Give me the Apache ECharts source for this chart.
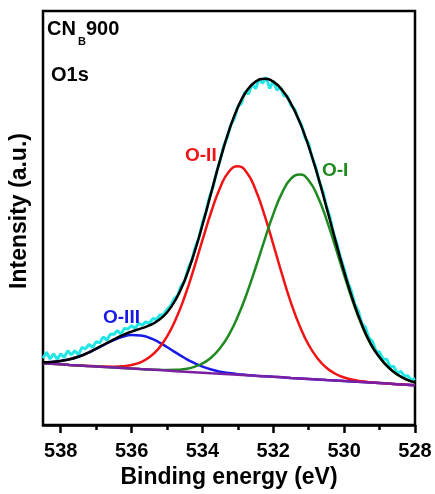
<!DOCTYPE html>
<html>
<head>
<meta charset="utf-8">
<script src="https://cdn.jsdelivr.net/npm/echarts@6/dist/echarts.min.js"></script>
<style>
  html, body { margin: 0; padding: 0; background: #fff; }
  #chart { width: 435px; height: 494px; }
</style>
</head>
<body>
<div id="chart"></div>
<script>
// O 1s core-level spectrum of CN_B900 with its peak deconvolution.

// Measured spectrum: binding energy (eV) and intensity (a.u.), 0.1 eV steps
const energyRaw = [
  538.5, 538.4, 538.3, 538.2, 538.1, 538.0, 537.9, 537.8, 537.7, 537.6,
  537.5, 537.4, 537.3, 537.2, 537.1, 537.0, 536.9, 536.8, 536.7, 536.6,
  536.5, 536.4, 536.3, 536.2, 536.1, 536.0, 535.9, 535.8, 535.7, 535.6,
  535.5, 535.4, 535.3, 535.2, 535.1, 535.0, 534.9, 534.8, 534.7, 534.6,
  534.5, 534.4, 534.3, 534.2, 534.1, 534.0, 533.9, 533.8, 533.7, 533.6,
  533.5, 533.4, 533.3, 533.2, 533.1, 533.0, 532.9, 532.8, 532.7, 532.6,
  532.5, 532.4, 532.3, 532.2, 532.1, 532.0, 531.9, 531.8, 531.7, 531.6,
  531.5, 531.4, 531.3, 531.2, 531.1, 531.0, 530.9, 530.8, 530.7, 530.6,
  530.5, 530.4, 530.3, 530.2, 530.1, 530.0, 529.9, 529.8, 529.7, 529.6,
  529.5, 529.4, 529.3, 529.2, 529.1, 529.0, 528.9, 528.8, 528.7, 528.6,
  528.5, 528.4, 528.3, 528.2, 528.1, 528.0
];
const intensityRaw = [
  67.0, 73.2, 66.3, 71.6, 66.0, 71.4, 68.0, 74.7, 70.5, 74.6,
  70.6, 78.0, 76.5, 81.1, 77.9, 83.7, 82.6, 88.5, 85.3, 91.2,
  91.1, 94.8, 91.5, 97.1, 96.5, 99.9, 97.1, 102.2, 100.4, 103.7,
  102.0, 107.0, 106.0, 110.6, 110.9, 116.1, 119.4, 126.7, 130.1, 139.8,
  144.5, 157.6, 165.7, 178.8, 187.9, 203.0, 214.1, 229.2, 239.3, 254.4,
  266.4, 280.2, 289.0, 301.5, 307.9, 320.3, 322.9, 334.6, 332.7, 342.4,
  338.0, 347.2, 343.3, 349.3, 338.2, 346.0, 336.6, 339.3, 330.9, 330.4,
  321.0, 317.4, 307.9, 301.2, 288.5, 282.8, 268.3, 258.8, 244.6, 234.8,
  220.0, 208.8, 192.6, 181.6, 167.9, 157.1, 143.6, 135.1, 121.4, 114.7,
  101.9, 98.2, 87.5, 83.9, 74.5, 73.1, 66.1, 66.1, 58.7, 58.8,
  52.0, 54.0, 49.0, 49.4, 45.1, 46.8
];

// Fit grid: binding energy (eV), 0.25 eV steps
const energyFit = [
  538.5, 538.25, 538.0, 537.75, 537.5, 537.25, 537.0, 536.75, 536.5, 536.25,
  536.0, 535.75, 535.5, 535.25, 535.0, 534.75, 534.5, 534.25, 534.0, 533.75,
  533.5, 533.25, 533.0, 532.75, 532.5, 532.25, 532.0, 531.75, 531.5, 531.25,
  531.0, 530.75, 530.5, 530.25, 530.0, 529.75, 529.5, 529.25, 529.0, 528.75,
  528.5, 528.25, 528.0
];
// Linear background
const background = [
  62.0, 61.5, 61.0, 60.4, 59.9, 59.4, 58.9, 58.3, 57.8, 57.3,
  56.8, 56.2, 55.7, 55.2, 54.7, 54.1, 53.6, 53.1, 52.6, 52.0,
  51.5, 51.0, 50.5, 50.0, 49.4, 48.9, 48.4, 47.9, 47.3, 46.8,
  46.3, 45.8, 45.2, 44.7, 44.2, 43.7, 43.1, 42.6, 42.1, 41.6,
  41.0, 40.5, 40.0
];
// Component intensities above the background
const peakOI = [
  0, 0, 0, 0, 0, 0, 0, 0, 0, 0,
  0, 0, 0, 0.3, 0.6, 1.3, 2.7, 5.1, 9.2, 15.8,
  25.8, 39.9, 58.7, 81.9, 108.6, 136.7, 163.5, 185.6, 200.2, 205.0,
  199.4, 184.1, 161.5, 134.5, 106.4, 79.9, 57.0, 38.6, 25.8, 16.3,
  9.8, 5.4, 2.8
];
const peakOII = [
  0, 0, 0, 0, 0, 0, 0.2, 0.4, 0.8, 1.7,
  3.5, 6.8, 12.3, 21.1, 34.1, 52.3, 75.5, 103.1, 133.1, 162.3,
  187.0, 203.7, 209.5, 203.7, 187.0, 162.3, 133.1, 103.1, 75.5, 52.3,
  34.1, 21.1, 12.3, 6.8, 3.5, 1.7, 0.8, 0.4, 0.2, 0,
  0, 0, 0
];
const peakOIII = [
  1.0, 1.9, 3.4, 5.6, 8.7, 12.8, 17.6, 22.7, 27.5, 31.4,
  33.6, 33.8, 32.0, 28.4, 23.7, 18.6, 13.7, 9.5, 6.1, 3.7,
  2.1, 1.2, 0.6, 0.3, 0, 0, 0, 0, 0, 0,
  0, 0, 0, 0, 0, 0, 0, 0, 0, 0,
  0, 0, 0
];
// Cumulative fit (background included)
const fitEnvelope = [
  63.0, 63.4, 64.4, 66.0, 68.6, 72.2, 76.7, 81.4, 86.1, 90.4,
  93.9, 96.8, 100.0, 105.0, 113.1, 126.3, 145.5, 170.8, 201.0, 233.8,
  266.4, 295.8, 319.3, 335.9, 345.0, 347.9, 345.0, 336.6, 323.0, 304.1,
  279.8, 251.0, 219.0, 186.0, 154.1, 125.3, 100.9, 81.6, 68.1, 57.9,
  50.8, 45.9, 42.8
];

const majorTicks = [528, 530, 532, 534, 536, 538];
const minorTicks = [529, 531, 533, 535, 537];

const FONT = '"Liberation Sans", Arial, Helvetica, sans-serif';

const pairs = (xs, ys) => xs.map((x, i) => [x, ys[i]]);
const onBackground = (ys) => energyFit.map((x, i) => [x, background[i] + ys[i]]);

const chart = echarts.init(document.getElementById('chart'), null, { renderer: 'canvas' });

const lineSeries = (name, data, color, width, smooth, z) => ({
  name, type: 'line', data, xAxisIndex: 0, yAxisIndex: 0,
  showSymbol: false, symbol: 'none', smooth,
  lineStyle: { color, width }, z, silent: true
});

chart.setOption({
  animation: false,
  backgroundColor: '#fff',
  grid: {
    left: 43, right: 20, top: 11, bottom: 67,
    show: true, borderColor: '#000', borderWidth: 2.5, backgroundColor: 'transparent'
  },
  xAxis: [
    {
      type: 'value', position: 'bottom', inverse: true, min: 528, max: 538.5,
      name: 'Binding energy (eV)', nameLocation: 'middle', nameGap: 41,
      nameTextStyle: { fontFamily: FONT, fontWeight: 'bold', fontSize: 23, color: '#000' },
      axisLine: { show: true, lineStyle: { color: '#000', width: 2.5 } },
      axisTick: { show: true, length: 8, customValues: majorTicks, lineStyle: { color: '#000', width: 2.5 } },
      axisLabel: {
        show: true, customValues: majorTicks, margin: 16,
        fontFamily: FONT, fontWeight: 'bold', fontSize: 20, color: '#000'
      },
      splitLine: { show: false }
    },
    {
      type: 'value', position: 'bottom', inverse: true, min: 528, max: 538.5,
      axisLine: { show: false },
      axisTick: { show: true, length: 5, customValues: minorTicks, lineStyle: { color: '#000', width: 2.5 } },
      axisLabel: { show: false },
      splitLine: { show: false }
    }
  ],
  yAxis: {
    type: 'value', min: 0, max: 416,
    axisLine: { show: false }, axisTick: { show: false },
    axisLabel: { show: false }, splitLine: { show: false }
  },
  series: [
    lineSeries('Raw', pairs(energyRaw, intensityRaw), '#22e6e6', 3, false, 2),
    lineSeries('O-III', onBackground(peakOIII), '#1a1ae6', 2.5, true, 3),
    lineSeries('O-II', onBackground(peakOII), '#f01414', 2.5, true, 4),
    lineSeries('O-I', onBackground(peakOI), '#1f8a1f', 2.5, true, 5),
    lineSeries('Background', pairs(energyFit, background), '#7b1fa2', 2.5, false, 6),
    lineSeries('Fit', pairs(energyFit, fitEnvelope), '#000', 2.5, true, 7)
  ],
  graphic: [
    { type: 'text', x: 20, y: 211, rotation: Math.PI / 2, z: 10,
      style: { text: 'Intensity (a.u.)', font: 'bold 23px ' + FONT, fill: '#000',
               align: 'center', verticalAlign: 'middle' } },
    { type: 'text', left: 47, top: 19, z: 10,
      style: { text: 'CN', font: 'bold 20px ' + FONT, fill: '#000' } },
    { type: 'text', left: 78, top: 36, z: 10,
      style: { text: 'B', font: 'bold 11px ' + FONT, fill: '#000' } },
    { type: 'text', left: 86, top: 19, z: 10,
      style: { text: '900', font: 'bold 20px ' + FONT, fill: '#000' } },
    { type: 'text', left: 51, top: 65, z: 10,
      style: { text: 'O1s', font: 'bold 20px ' + FONT, fill: '#000' } },
    { type: 'text', left: 185, top: 146, z: 10,
      style: { text: 'O-II', font: 'bold 19px ' + FONT, fill: '#f01414' } },
    { type: 'text', left: 322, top: 161, z: 10,
      style: { text: 'O-I', font: 'bold 19px ' + FONT, fill: '#1f8a1f' } },
    { type: 'text', left: 103, top: 308, z: 10,
      style: { text: 'O-III', font: 'bold 19px ' + FONT, fill: '#1a1ae6' } }
  ]
});
</script>
</body>
</html>
